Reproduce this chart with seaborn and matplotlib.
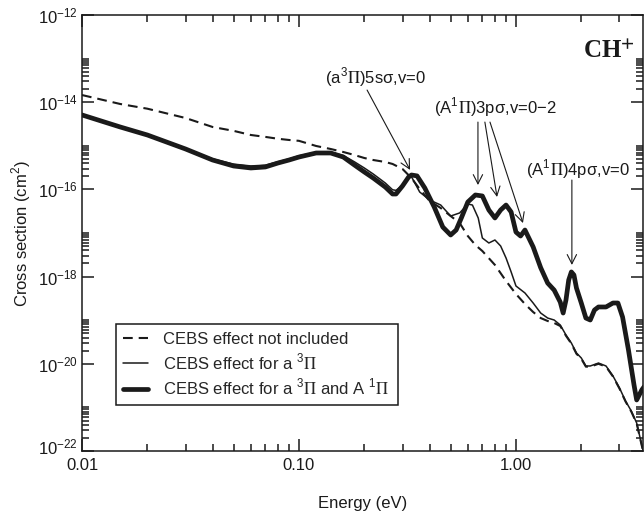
import numpy as np
import pandas as pd
import matplotlib
matplotlib.use("Agg")
import matplotlib.pyplot as plt
import matplotlib.transforms as mtransforms
from matplotlib.ticker import FixedLocator, NullFormatter, LogLocator
from matplotlib.lines import Line2D
import seaborn as sns

# Electron energy (eV) and cross sections (cm^2) for the three calculations
energy_bare = [0.01, 0.015, 0.02, 0.03, 0.04, 0.05, 0.06, 0.07, 0.08, 0.09, 0.10,
               0.12, 0.14, 0.16, 0.18, 0.20, 0.22, 0.25, 0.27, 0.30, 0.33, 0.36,
               0.40, 0.45, 0.50, 0.55, 0.60, 0.65, 0.70, 0.80, 0.90, 1.0, 1.1,
               1.2, 1.3, 1.4, 1.5, 1.6, 1.7, 1.8, 1.9, 2.0, 2.1, 2.2, 2.4, 2.6,
               2.8, 3.0, 3.2, 3.4, 3.6, 3.8, 3.9]
xs_bare = [1.46e-14, 9.1e-15, 7.1e-15, 4.34e-15, 2.70e-15, 2.2e-15, 1.77e-15,
           1.6e-15, 1.45e-15, 1.36e-15, 1.30e-15, 9.9e-16, 8.45e-16, 7.21e-16,
           6.15e-16, 5.25e-16, 4.72e-16, 4.25e-16, 3.83e-16, 2.94e-16, 1.82e-16,
           1.02e-16, 5.42e-17, 3.74e-17, 2.45e-17, 1.70e-17, 8.53e-18, 5.31e-18,
           3.86e-18, 1.85e-18, 7.93e-19, 3.99e-19, 2.35e-19, 1.54e-19, 1.12e-19,
           9.59e-20, 8.63e-20, 7.36e-20, 4.4e-20, 2.9e-20, 1.7e-20, 1.3e-20,
           8.6e-21, 8.6e-21, 1.0e-20, 8.6e-21, 5.1e-21, 2.7e-21, 1.36e-21,
           8.0e-22, 4.3e-22, 1.33e-22, 8e-23]

energy_a3 = [0.01, 0.015, 0.02, 0.03, 0.04, 0.05, 0.06, 0.07, 0.08, 0.09, 0.10,
             0.12, 0.14, 0.16, 0.18, 0.20, 0.22, 0.25, 0.27, 0.28, 0.30, 0.32,
             0.33, 0.36, 0.40, 0.45, 0.50, 0.55, 0.60, 0.63, 0.67, 0.70, 0.75,
             0.80, 0.85, 0.90, 0.95, 1.0, 1.1, 1.2, 1.3, 1.4, 1.5, 1.6, 1.7,
             1.8, 1.9, 2.0, 2.1, 2.2, 2.4, 2.6, 2.8, 3.0, 3.2, 3.4, 3.6, 3.8, 3.9]
xs_a3 = [5.1e-15, 2.7e-15, 1.77e-15, 8.45e-16, 5.0e-16, 3.8e-16, 3.45e-16,
         3.6e-16, 4.3e-16, 5.0e-16, 5.9e-16, 7.1e-16, 7.1e-16, 6.0e-16, 4.3e-16,
         3.1e-16, 2.25e-16, 1.40e-16, 9.8e-17, 9.5e-17, 1.25e-16, 1.85e-16,
         1.95e-16, 8.71e-17, 5.71e-17, 4.38e-17, 2.45e-17, 2.88e-17, 4.62e-17,
         4.38e-17, 2.21e-17, 7.68e-18, 5.90e-18, 6.91e-18, 5.03e-18, 2.67e-18,
         1.28e-18, 6.09e-19, 4.21e-19, 2.48e-19, 1.46e-19, 1.12e-19, 1.01e-19,
         7.76e-20, 4.58e-20, 3.00e-20, 1.77e-20, 1.36e-20, 8.91e-21, 8.91e-21,
         1.04e-20, 8.91e-21, 5.25e-21, 2.79e-21, 1.40e-21, 8.26e-22, 4.39e-22,
         1.37e-22, 8e-23]

energy_a3A1 = [0.01, 0.015, 0.02, 0.03, 0.04, 0.05, 0.06, 0.07, 0.08, 0.09, 0.10,
               0.12, 0.14, 0.16, 0.18, 0.20, 0.22, 0.25, 0.27, 0.28, 0.30, 0.32,
               0.33, 0.35, 0.38, 0.42, 0.46, 0.50, 0.53, 0.56, 0.60, 0.65, 0.70,
               0.75, 0.80, 0.85, 0.90, 0.95, 1.0, 1.05, 1.1, 1.2, 1.3, 1.4, 1.5,
               1.6, 1.65, 1.7, 1.75, 1.8, 1.85, 1.9, 2.0, 2.1, 2.2, 2.3, 2.4, 2.6,
               2.8, 2.95, 3.1, 3.3, 3.5, 3.6, 3.8, 3.9]
xs_a3A1 = [5.1e-15, 2.7e-15, 1.77e-15, 8.45e-16, 4.72e-16, 3.44e-16, 3.10e-16,
           3.27e-16, 4.03e-16, 4.72e-16, 5.53e-16, 6.84e-16, 6.84e-16, 5.53e-16,
           3.63e-16, 2.51e-16, 1.82e-16, 1.13e-16, 7.84e-17, 7.84e-17, 1.20e-16,
           1.92e-16, 2.14e-16, 2.04e-16, 1.08e-16, 3.95e-17, 1.37e-17, 9.0e-18,
           1.17e-17, 2.21e-17, 5.14e-17, 7.45e-17, 7.07e-17, 3.37e-17, 2.21e-17,
           3.37e-17, 4.38e-17, 3.03e-17, 1.05e-17, 8.53e-18, 1.17e-17, 4.8e-18,
           1.6e-18, 7.1e-19, 4.9e-19, 2.6e-19, 1.46e-19, 2.90e-19, 8.35e-19,
           1.28e-18, 1.09e-18, 5.48e-19, 2.48e-19, 1.12e-19, 1.01e-19, 1.71e-19,
           2.01e-19, 2.01e-19, 2.48e-19, 2.48e-19, 1.18e-19, 2.07e-20, 3.27e-21,
           1.48e-21, 2.51e-21, 3.0e-21]

legend_labels = ["CEBS effect not included",
                 r"CEBS effect for a $^{\mathregular{3}}\Pi$",
                 r"CEBS effect for a $^{\mathregular{3}}\Pi$ and A $^{\mathregular{1}}\Pi$"]

x_ticks = [0.01, 0.1, 1.0]
x_ticklabels = ["0.01", "0.10", "1.00"]
y_exponents = [-22, -20, -18, -16, -14, -12]

sns.set_theme(style="ticks")
plt.rcParams["font.family"] = ["Liberation Sans", "DejaVu Sans"]
plt.rcParams["mathtext.fontset"] = "stix"
plt.rcParams["lines.scale_dashes"] = False
plt.rcParams["axes.linewidth"] = 1.1

fig = plt.figure(figsize=(6.44, 5.14), dpi=100)
ax = fig.add_axes([82 / 644, 63 / 514, 561 / 644, 436 / 514])

bare = pd.DataFrame({"energy": energy_bare, "xs": xs_bare})
a3 = pd.DataFrame({"energy": energy_a3, "xs": xs_a3})
a3A1 = pd.DataFrame({"energy": energy_a3A1, "xs": xs_a3A1})

sns.lineplot(data=bare, x="energy", y="xs", ax=ax, color="k", lw=1.5,
             linestyle=(0, (7, 4.3)), sort=False, estimator=None)
sns.lineplot(data=a3, x="energy", y="xs", ax=ax, color="k", lw=1.1,
             sort=False, estimator=None)
sns.lineplot(data=a3A1, x="energy", y="xs", ax=ax, color="k", lw=3.4,
             sort=False, estimator=None, solid_joinstyle="round")

ax.set_xscale("log")
ax.set_yscale("log")
ax.set_xlim(0.01, 3.85)
ax.set_ylim(1e-22, 1e-12)

ax.xaxis.set_major_locator(FixedLocator(x_ticks))
ax.set_xticklabels(x_ticklabels)
ax.xaxis.set_minor_locator(LogLocator(base=10, subs=np.arange(2, 10), numticks=20))
ax.xaxis.set_minor_formatter(NullFormatter())

ax.yaxis.set_major_locator(FixedLocator([10.0 ** e for e in y_exponents]))
ax.set_yticklabels([r"$\mathregular{10^{%d}}$" % e for e in y_exponents])
ax.yaxis.set_minor_locator(FixedLocator([k * 10.0 ** e for e in y_exponents
                                         for k in range(2, 11)]))
ax.yaxis.set_minor_formatter(NullFormatter())

ax.tick_params(which="both", direction="in", top=True, right=True,
               color="k", width=1.1, labelsize=12, pad=3, labelcolor="k")
ax.tick_params(axis="x", which="major", pad=5)
ax.tick_params(which="major", length=8.6)
ax.tick_params(which="minor", length=5)
for s in ax.spines.values():
    s.set_color("k")
    s.set_linewidth(1.1)

# lift the lowest y label slightly so it clears the first x label
lift = mtransforms.ScaledTranslation(0, 0.05, fig.dpi_scale_trans)
lowest = ax.yaxis.get_majorticklabels()[0]
lowest.set_transform(lowest.get_transform() + lift)

ax.set_xlabel("Energy (eV)", fontsize=12, color="k")
ax.set_ylabel(r"Cross section (cm$^{\mathregular{2}}$)", fontsize=12, color="k")
ax.xaxis.set_label_coords(0.5, -0.104)
ax.yaxis.set_label_coords(-0.087, 0.5)

arrow = dict(arrowstyle="->,head_length=0.55,head_width=0.28", color="k",
             lw=0.8, shrinkA=0, shrinkB=0)
ax.text(0.224, 3.6e-14, r"(a$^{\mathregular{3}}\Pi$)5sσ,v=0",
        ha="center", va="center", fontsize=12, color="k")
ax.annotate("", xy=(0.325, 2.8e-16), xytext=(0.206, 1.9e-14), arrowprops=arrow)

ax.text(0.804, 7.4e-15, r"(A$^{\mathregular{1}}\Pi$)3pσ,v=0−2",
        ha="center", va="center", fontsize=12, color="k")
for tip, tail in [((0.668, 1.26e-16), (0.668, 3.5e-15)),
                  ((0.818, 6.7e-17), (0.719, 3.5e-15)),
                  ((1.077, 1.69e-17), (0.759, 3.5e-15))]:
    ax.annotate("", xy=tip, xytext=tail, arrowprops=arrow)

ax.text(1.92, 2.8e-16, r"(A$^{\mathregular{1}}\Pi$)4pσ,v=0",
        ha="center", va="center", fontsize=12, color="k")
ax.annotate("", xy=(1.81, 1.85e-18), xytext=(1.81, 1.64e-16), arrowprops=arrow)

ax.text(0.986, 0.901, r"CH$^{\mathbf{+}}$", transform=ax.transAxes,
        ha="right", va="baseline", fontsize=18, fontweight="bold",
        family="Liberation Serif", color="k")

handles = [Line2D([], [], color="k", lw=1.5, linestyle=(0, (7, 4.3))),
           Line2D([], [], color="k", lw=1.1),
           Line2D([], [], color="k", lw=3.4)]
leg = ax.legend(handles, legend_labels, loc="lower left",
                bbox_to_anchor=(0.0606, 0.1055), borderaxespad=0,
                fontsize=12, frameon=True, fancybox=False, framealpha=1,
                edgecolor="k", handlelength=1.5, handletextpad=0.9,
                labelspacing=0.32, borderpad=0.45)
leg.get_frame().set_linewidth(1.1)

fig.savefig("out.png", dpi=100)
